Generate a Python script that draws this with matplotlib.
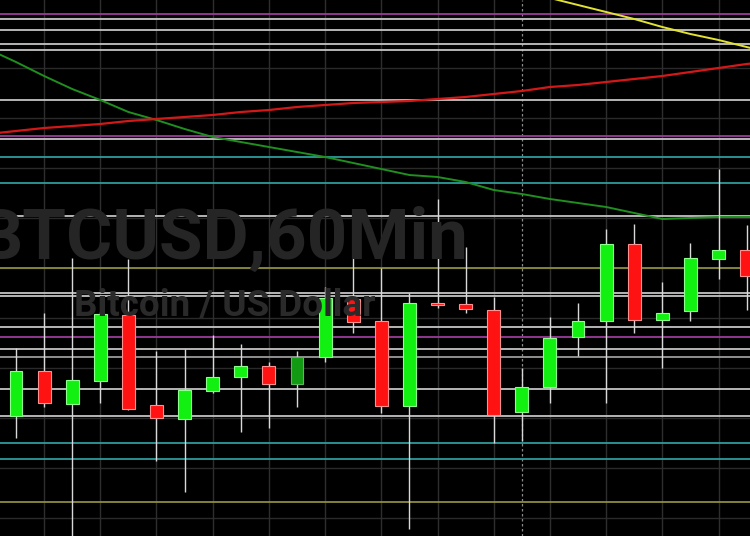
"""
BTCUSD 60 min candles with support/resistance levels and moving averages.
"""
#----------------------------------------------------------------
#   I M P O R T S
#----------------------------------------------------------------
import numpy as np
import matplotlib
matplotlib.use("Agg")
import matplotlib.pyplot as plt

#----------------------------------------------------------------
#   DATA
#----------------------------------------------------------------
# hourly candles, open / high / low / close (USD)
opens  = [7202, 7247, 7214, 7237, 7303, 7213, 7199, 7227, 7241, 7252, 7234, 7261, 7319, 7297,
          7212, 7315, 7314, 7308, 7206, 7231, 7281, 7297, 7374, 7298, 7307, 7359, 7368]
highs  = [7270, 7305, 7360, 7306, 7359, 7267, 7269, 7283, 7274, 7256, 7267, 7331, 7363, 7350,
          7325, 7419, 7371, 7321, 7250, 7301, 7315, 7389, 7394, 7336, 7375, 7449, 7393]
lows   = [7180, 7211, 7078, 7215, 7208, 7157, 7126, 7225, 7186, 7190, 7211, 7256, 7285, 7205,
          7089, 7310, 7305, 7175, 7177, 7215, 7262, 7215, 7285, 7250, 7297, 7339, 7308]
closes = [7247, 7215, 7238, 7304, 7209, 7200, 7228, 7241, 7252, 7234, 7261, 7320, 7296, 7212,
          7315, 7313, 7309, 7203, 7231, 7280, 7297, 7374, 7298, 7305, 7360, 7368, 7342]

# moving averages, one value per candle starting one candle before the first one
ma_green = [7569, 7556, 7542, 7529, 7518, 7506, 7498, 7489, 7481, 7476, 7471, 7466, 7461, 7455, 7449,
            7443, 7441, 7436, 7428, 7424, 7419, 7415, 7411, 7405, 7399, 7400, 7401, 7401, 7401]
ma_red = [7484, 7487, 7490, 7492, 7494, 7497, 7499, 7501, 7503, 7506, 7508, 7511, 7513, 7515, 7516,
          7517, 7519, 7521, 7524, 7527, 7531, 7533, 7536, 7539, 7542, 7546, 7550, 7554, 7557]
ma_yellow = [7620, 7613, 7606, 7599, 7591, 7584, 7578, 7571, 7564]   # from candle 19 on

# horizontal levels and their colour group
levels = [7604, 7599, 7588, 7574, 7568, 7518, 7482, 7479, 7461, 7435, 7402, 7350,
          7325, 7322, 7291, 7281, 7269, 7261, 7229, 7202, 7175, 7159, 7116]
level_kind = ["purple", "gray", "gray", "gray", "gray", "gray", "purple", "gray", "teal", "teal",
              "gray", "olive", "gray", "gray", "gray", "purple", "gray", "dim", "gray", "gray",
              "teal", "teal", "olive"]

title_big = "BTCUSD,60Min"
title_small = "Bitcoin / US Dollar"

#----------------------------------------------------------------
#   PLOTTING
#----------------------------------------------------------------
level_colors = {"purple": "#9a3c9a", "gray": "#c4c4c4", "dim": "#9a9a9a",
                "teal": "#2e9c9c", "olive": "#8c8c3c"}

n = len(opens)
idx = np.arange(n)

fig = plt.figure(figsize=(7.5, 5.36), dpi=100, facecolor="black")
ax = fig.add_axes([0, 0, 1, 1])
ax.set_facecolor("black")
ax.set_xlim(-0.569, 26.12)
ax.set_ylim(7082, 7618)
ax.axis("off")

# faint grid
for g in range(7100, 7601, 50):
    ax.axhline(g, color="#2a2a2a", lw=1.0, zorder=0.2)
for g in range(1, n, 2):
    ax.axvline(g, color="#2e2e2e", lw=1.0, zorder=0.2)
ax.axvline(18, color="#8a8a8a", lw=0.9, ls=(0, (2, 2)), zorder=0.3)

# watermark (the first letter runs off the left edge, as in the original)
fig.text(-22 / 750, 1 - 259 / 536, title_big, family="Roboto", weight="bold",
         fontsize=51, color="#252525", ha="left", va="baseline", zorder=0.4)
fig.text(74 / 750, 1 - 315 / 536, title_small, family="Roboto", weight="bold",
         fontsize=26.5, color="#2a2a2a", ha="left", va="baseline", zorder=0.4)

# levels
for lv, kind in zip(levels, level_kind):
    ax.axhline(lv, color=level_colors[kind], lw=1.3, zorder=1)

# moving averages
ax.plot(np.arange(-1, n + 1), ma_green, color="#1f8f1f", lw=1.4, zorder=2)
ax.plot(np.arange(-1, n + 1), ma_red, color="#d41818", lw=1.6, zorder=2)
ax.plot(np.arange(19, 19 + len(ma_yellow)), ma_yellow, color="#e2e232", lw=1.4, zorder=2)

# candles
body_colors = []
edge_colors = []
for i in idx:
    if i == 10:
        body_colors.append("#129a12")
        edge_colors.append("#5ab85a")
    elif closes[i] >= opens[i]:
        body_colors.append("#12f012")
        edge_colors.append("#8cff8c")
    else:
        body_colors.append("#ff1212")
        edge_colors.append("#ff9090")

ax.vlines(idx, lows, highs, color="#d8d8d8", lw=1.0, zorder=3)
bottoms = np.minimum(opens, closes)
heights = np.maximum(np.abs(np.array(closes) - np.array(opens)), 1.5)
ax.bar(idx, heights, bottom=bottoms, width=0.46, color=body_colors,
       edgecolor=edge_colors, linewidth=0.8, zorder=4)

fig.savefig("out.png", dpi=100, facecolor="black")
